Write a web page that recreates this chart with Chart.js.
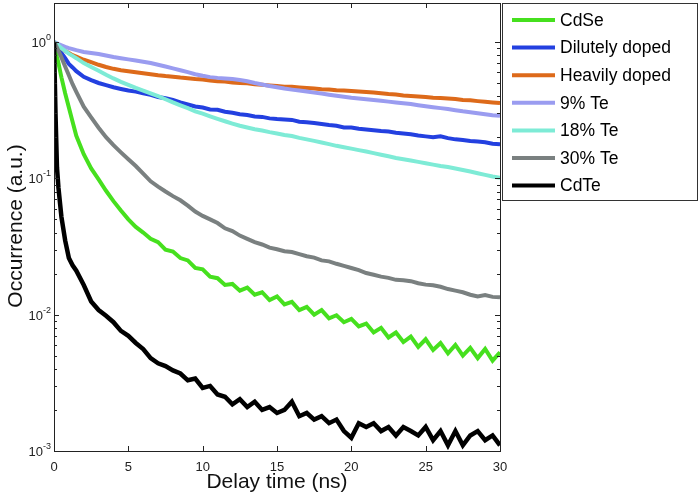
<!DOCTYPE html>
<html><head><meta charset="utf-8">
<script src="https://cdn.jsdelivr.net/npm/chart.js@4.4.0/dist/chart.umd.min.js"></script>
<style>html,body{margin:0;padding:0;background:#fff}</style>
</head><body>
<canvas id="c" width="700" height="500"></canvas>
<script>
// ---- data ----
const times = [0,0.1,0.2,0.3,0.5,0.75,1,1.25,1.5,
  2,2.5,3,3.5,4,4.5,5,5.5,6,6.5,
  7,7.5,8,8.5,9,9.5,10,10.5,11,11.5,
  12,12.5,13,13.5,14,14.5,15,15.5,16,16.5,
  17,17.5,18,18.5,19,19.5,20,20.5,21,21.5,
  22,22.5,23,23.5,24,24.5,25,25.5,26,26.5,
  27,27.5,28,28.5,29,29.5,30];

const cdse = [1,0.88,0.78,0.70,0.55,0.42,0.33,0.26,0.205,
  0.150,0.118,0.098,0.081,0.068,0.058,0.050,0.044,0.040,0.036,
  0.034,0.030,0.029,0.026,0.025,0.022,0.0215,0.019,0.0185,0.0165,
  0.0168,0.0150,0.0158,0.0140,0.0146,0.0128,0.0136,0.0119,0.0124,0.0108,
  0.0114,0.0100,0.0108,0.0094,0.0099,0.0088,0.0093,0.0082,0.0086,0.0074,
  0.0080,0.0068,0.0074,0.0063,0.0069,0.0058,0.0066,0.0055,0.0062,0.0052,
  0.0060,0.0050,0.0057,0.0048,0.0056,0.0046,0.0053];

const dilutelyDoped = [1,0.96,0.92,0.89,0.83,0.76,0.69,0.65,0.61,
  0.555,0.525,0.50,0.482,0.465,0.452,0.44,0.432,0.42,0.41,
  0.395,0.386,0.375,0.36,0.348,0.336,0.33,0.32,0.318,0.308,
  0.302,0.295,0.291,0.284,0.282,0.275,0.272,0.27,0.268,0.26,
  0.258,0.254,0.25,0.246,0.243,0.236,0.236,0.231,0.228,0.225,
  0.222,0.22,0.216,0.213,0.21,0.206,0.203,0.2,0.203,0.197,
  0.193,0.191,0.188,0.186,0.184,0.179,0.178];

const heavilyDoped = [1,0.98,0.96,0.94,0.90,0.86,0.83,0.80,0.78,
  0.74,0.71,0.68,0.655,0.635,0.62,0.61,0.60,0.59,0.58,
  0.57,0.562,0.556,0.548,0.542,0.535,0.53,0.522,0.515,0.512,
  0.505,0.50,0.497,0.49,0.485,0.48,0.476,0.47,0.469,0.464,
  0.46,0.455,0.45,0.448,0.443,0.44,0.436,0.433,0.43,0.425,
  0.42,0.415,0.412,0.405,0.402,0.398,0.395,0.39,0.388,0.385,
  0.381,0.375,0.373,0.368,0.364,0.36,0.357];

const te9 = [1,0.99,0.975,0.965,0.945,0.92,0.90,0.885,0.87,
  0.845,0.83,0.815,0.795,0.775,0.76,0.745,0.73,0.715,0.70,
  0.68,0.66,0.64,0.62,0.60,0.58,0.565,0.552,0.545,0.54,
  0.535,0.525,0.515,0.50,0.487,0.475,0.465,0.455,0.447,0.44,
  0.433,0.425,0.418,0.41,0.403,0.397,0.39,0.385,0.38,0.375,
  0.37,0.365,0.36,0.355,0.35,0.343,0.337,0.332,0.327,0.322,
  0.316,0.31,0.305,0.30,0.295,0.29,0.287];

const te18 = [1,0.98,0.96,0.94,0.90,0.86,0.82,0.79,0.76,
  0.70,0.655,0.615,0.575,0.54,0.51,0.485,0.46,0.44,0.42,
  0.40,0.38,0.36,0.343,0.327,0.31,0.298,0.285,0.273,0.262,
  0.252,0.243,0.236,0.229,0.224,0.218,0.213,0.208,0.204,0.198,
  0.193,0.188,0.183,0.178,0.173,0.169,0.165,0.161,0.157,0.153,
  0.149,0.145,0.141,0.138,0.135,0.132,0.129,0.126,0.123,0.121,
  0.118,0.115,0.112,0.109,0.106,0.103,0.101];

const te30 = [1,0.96,0.91,0.86,0.77,0.66,0.57,0.49,0.43,
  0.335,0.28,0.235,0.20,0.175,0.155,0.138,0.123,0.108,0.095,
  0.087,0.080,0.074,0.069,0.063,0.057,0.053,0.050,0.047,0.043,
  0.041,0.038,0.036,0.034,0.0327,0.031,0.0302,0.0292,0.0288,0.0278,
  0.0268,0.0262,0.0250,0.0246,0.0236,0.0228,0.0220,0.0212,0.0202,0.0196,
  0.0190,0.0186,0.0180,0.0179,0.0176,0.0170,0.0166,0.0164,0.0160,0.0154,
  0.0150,0.0146,0.0140,0.0136,0.0139,0.0135,0.0134];

const cdte = [1,0.30,0.12,0.085,0.052,0.035,0.026,0.023,0.021,
  0.0165,0.0125,0.0108,0.0098,0.0088,0.0076,0.0070,0.0062,0.0056,0.0048,
  0.0044,0.0042,0.0039,0.0037,0.0033,0.0034,0.0029,0.0030,0.0026,0.0025,
  0.0022,0.0024,0.0021,0.0023,0.0020,0.0021,0.0019,0.0020,0.0023,0.0018,
  0.0019,0.0017,0.0018,0.0016,0.0017,0.0014,0.00125,0.0016,0.0015,0.0016,
  0.0014,0.0015,0.0013,0.0015,0.0014,0.0013,0.0015,0.0012,0.0014,0.0011,
  0.0014,0.0011,0.0013,0.0014,0.0012,0.0013,0.0011];

const seriesNames = ['CdSe','Dilutely doped','Heavily doped','9% Te','18% Te','30% Te','CdTe'];
const xTickValues = [0,5,10,15,20,25,30];
const yTickPowers = [0,-1,-2,-3];
const xTitle = 'Delay time (ns)';
const yTitle = 'Occurrence (a.u.)';

// ---- styles ----
const seriesColors = ['#46e01e','#2340e0','#dd6a1a','#9a9cf0','#7eebd6','#7a8080','#000000'];
const seriesWidths = [4, 4, 4, 4, 4, 4, 4.5];
const FONT = '"Liberation Sans", Arial, Helvetica, sans-serif';

const seriesValues = [cdse, dilutelyDoped, heavilyDoped, te9, te18, te30, cdte];
const datasets = seriesNames.map((name, i) => ({
  label: name,
  data: times.map((t, k) => ({x: t, y: seriesValues[i][k]})),
  borderColor: seriesColors[i],
  backgroundColor: seriesColors[i],
  borderWidth: seriesWidths[i],
  pointRadius: 0,
  tension: 0,
  fill: false,
  order: seriesNames.length - i
}));

const decor = {
  id: 'decor',
  afterDraw(chart) {
    const ctx = chart.ctx;
    const xs = chart.scales.x, ys = chart.scales.y;
    const a = chart.chartArea;
    ctx.save();
    ctx.strokeStyle = '#222';
    ctx.lineWidth = 1;
    // ticks inward
    ctx.beginPath();
    xTickValues.forEach(v => {
      const px = Math.round(xs.getPixelForValue(v)) + 0.5;
      ctx.moveTo(px, a.bottom); ctx.lineTo(px, a.bottom - 5);
      ctx.moveTo(px, a.top); ctx.lineTo(px, a.top + 5);
    });
    for (let p = -3; p <= 0; p++) {
      for (let m = 1; m <= 9; m++) {
        const v = m * Math.pow(10, p);
        if (v > ys.max || v < ys.min) continue;
        const py = Math.round(ys.getPixelForValue(v)) + 0.5;
        const len = m === 1 ? 5 : 3;
        ctx.moveTo(a.left, py); ctx.lineTo(a.left + len, py);
        ctx.moveTo(a.right, py); ctx.lineTo(a.right - len, py);
      }
    }
    ctx.stroke();
    // frame
    ctx.strokeRect(Math.round(a.left) + 0.5, Math.round(a.top) + 0.5,
                   Math.round(a.right - a.left), Math.round(a.bottom - a.top));
    // y tick labels 10^n
    ctx.fillStyle = '#222';
    ctx.textBaseline = 'alphabetic';
    ctx.textAlign = 'left';
    yTickPowers.forEach(p => {
      const py = ys.getPixelForValue(Math.pow(10, p));
      const expo = p === 0 ? '0' : '-' + (-p);
      ctx.font = '13px ' + FONT;
      const w10 = ctx.measureText('10').width;
      ctx.font = '9px ' + FONT;
      const we = ctx.measureText(expo).width;
      const x0 = 51 - w10 - we;
      ctx.font = '13px ' + FONT;
      ctx.fillText('10', x0, py + 5);
      ctx.font = '9px ' + FONT;
      ctx.fillText(expo, x0 + w10, py - 2);
    });
    // axis titles
    ctx.fillStyle = '#111';
    ctx.font = '21px ' + FONT;
    ctx.textAlign = 'center';
    ctx.fillText(xTitle, (a.left + a.right) / 2, 488);
    ctx.save();
    ctx.translate(22, 226);
    ctx.rotate(-Math.PI / 2);
    ctx.fillText(yTitle, 0, 0);
    ctx.restore();
    // legend
    const lx = 502.5, ly = 3.5, lw = 195, lh = 197;
    ctx.fillStyle = '#fff';
    ctx.fillRect(lx, ly, lw, lh);
    ctx.strokeStyle = '#333';
    ctx.lineWidth = 1;
    ctx.strokeRect(lx, ly, lw, lh);
    ctx.font = '17.5px ' + FONT;
    ctx.textAlign = 'left';
    ctx.textBaseline = 'middle';
    chart.data.datasets.forEach((ds, i) => {
      const y = 20 + i * 27.6;
      ctx.strokeStyle = ds.borderColor;
      ctx.lineWidth = 4;
      ctx.beginPath();
      ctx.moveTo(512, y); ctx.lineTo(555, y);
      ctx.stroke();
      ctx.fillStyle = '#000';
      ctx.fillText(ds.label, 560, y + 1);
    });
    ctx.restore();
  }
};

Chart.defaults.color = '#222';
Chart.defaults.font.family = FONT;

new Chart(document.getElementById('c'), {
  type: 'line',
  data: { datasets },
  options: {
    responsive: false,
    animation: false,
    devicePixelRatio: 1,
    layout: { padding: { left: 0, right: 200, top: 3, bottom: 0 } },
    plugins: { legend: { display: false }, tooltip: { enabled: false } },
    scales: {
      x: {
        type: 'linear', min: 0, max: 30,
        grid: { display: false }, border: { display: false },
        ticks: { font: { size: 13 }, color: '#222', padding: 1, maxRotation: 0, autoSkip: false },
        afterBuildTicks(s) { s.ticks = xTickValues.map(v => ({ value: v })); },
        afterFit(s) { s.height = 49; }
      },
      y: {
        type: 'logarithmic', min: 0.001, max: 1.93,
        grid: { display: false }, border: { display: false },
        ticks: { display: false },
        afterFit(s) { s.width = 54; }
      }
    }
  },
  plugins: [decor]
});
</script>
</body></html>
